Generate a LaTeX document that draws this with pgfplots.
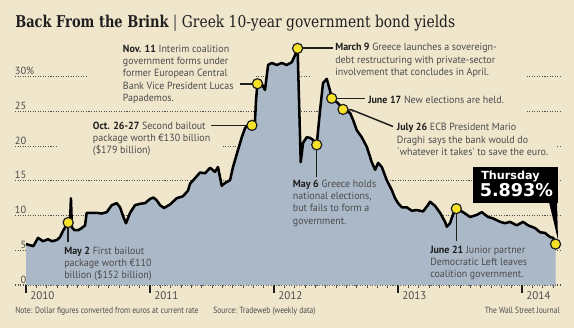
\documentclass[border=0pt]{standalone}
\usepackage{pgfplots}
\pgfplotsset{compat=1.18}
\usepackage{pgfplotstable}
\usepackage{fontspec}
\setmainfont{PT Sans}
\newfontfamily\titlefont[FakeStretch=0.85]{DejaVu Serif}
\newfontfamily\titlebold[FakeStretch=0.80]{DejaVu Serif Bold}
\newfontfamily\boxfont{DejaVu Sans}
\newfontfamily\annfont[FakeStretch=0.96]{PT Sans}
\newfontfamily\footfont[FakeStretch=0.85]{PT Sans}

\definecolor{bg}{RGB}{239,230,204}
\definecolor{areab}{RGB}{170,184,200}
\definecolor{marky}{RGB}{246,226,40}
\definecolor{txt}{RGB}{75,75,75}
\definecolor{dk}{RGB}{30,30,30}
\definecolor{gridc}{RGB}{80,80,80}

\pgfplotstableread{
x y
2010.000 5.9
2010.059 5.6
2010.097 6.8
2010.137 6.3
2010.177 6.6
2010.210 6.3
2010.250 6.5
2010.274 6.9
2010.298 7.8
2010.322 8.5
2010.340 9.0
2010.356 9.6
2010.362 12.5
2010.370 8.3
2010.390 7.9
2010.420 7.9
2010.449 8.2
2010.476 8.6
2010.489 10.4
2010.530 10.4
2010.570 10.4
2010.610 10.3
2010.651 10.5
2010.691 11.5
2010.731 11.8
2010.758 11.2
2010.785 9.8
2010.806 8.9
2010.839 10.4
2010.879 11.5
2010.919 11.7
2010.960 11.8
2011.000 12.4
2011.027 12.6
2011.054 12.2
2011.081 11.5
2011.113 11.1
2011.161 11.6
2011.215 12.5
2011.266 12.8
2011.306 13.6
2011.323 14.6
2011.363 15.4
2011.403 16.2
2011.444 16.1
2011.484 16.9
2011.524 16.3
2011.548 17.0
2011.578 14.3
2011.605 14.7
2011.645 15.1
2011.669 17.0
2011.710 19.5
2011.740 21.3
2011.766 22.6
2011.806 23.3
2011.822 23.0
2011.845 23.2
2011.855 26.7
2011.866 29.0
2011.887 29.5
2011.927 28.1
2011.952 31.7
2011.981 32.0
2012.022 31.7
2012.062 32.0
2012.102 31.7
2012.143 32.1
2012.169 33.1
2012.190 34.1
2012.215 17.7
2012.234 20.5
2012.264 21.3
2012.290 21.2
2012.315 20.9
2012.344 20.2
2012.371 25.2
2012.395 29.1
2012.425 29.7
2012.450 28.1
2012.465 26.9
2012.516 26.2
2012.556 25.3
2012.613 24.8
2012.637 23.8
2012.667 22.3
2012.707 21.3
2012.748 19.9
2012.788 17.7
2012.815 16.6
2012.839 17.6
2012.869 17.0
2012.909 15.1
2012.949 13.7
2012.976 12.5
2013.000 11.8
2013.030 11.2
2013.070 11.2
2013.111 10.7
2013.151 10.8
2013.202 10.6
2013.240 11.5
2013.258 12.0
2013.298 11.4
2013.339 10.4
2013.379 9.1
2013.393 8.4
2013.419 8.9
2013.444 10.2
2013.470 11.0
2013.524 10.5
2013.581 9.8
2013.635 10.1
2013.675 10.5
2013.726 9.8
2013.766 9.6
2013.823 9.1
2013.863 8.9
2013.903 9.1
2013.957 8.6
2014.008 9.1
2014.048 8.6
2014.105 8.2
2014.145 7.6
2014.185 7.5
2014.226 6.9
2014.250 6.8
2014.270 5.893
}\yields

\pgfplotstableread{
x y
2010.340 9.0
2011.822 23.0
2011.866 29.0
2012.190 34.1
2012.344 20.2
2012.465 26.9
2012.556 25.3
2013.470 11.0
2014.270 5.893
}\events

\pgfplotsset{base/.style={scale only axis, width=408.75pt, height=182.175pt,
  xmin=2009.911, xmax=2014.306, ymin=0, ymax=35,
  at={(15*0.75pt,-285*0.75pt)}, anchor=south west}}

\begin{document}
\begin{tikzpicture}
\begin{scope}[x=0.75pt,y=-0.75pt]
\fill[bg] (0,0) rectangle (574,328);
\end{scope}

\begin{axis}[base,
  axis line style={draw=none},
  ymajorgrids,
  major grid style={color=gridc, line width=0.8pt, dash pattern=on 0.8pt off 1.1pt},
  ytick={0,5,10,15,20,25,30},
  yticklabels={0,5,10,15,20,25,30\rlap{\%}},
  ytick align=inside,
  ytick style={draw=none},
  yticklabel style={anchor=south east, inner sep=0pt, xshift=8.6pt, yshift=1.2pt,
    font=\fontsize{7.8}{9}\selectfont, text=txt},
  xtick={2010,2011,2012,2013,2014},
  xticklabels={2010,2011,2012,2013,2014},
  xtick align=outside,
  tick pos=left,
  major tick length=6pt,
  minor tick length=2.2pt,
  major x tick style={color=dk, line width=1.1pt},
  minor xtick={2010.08333,2010.16667,2010.25,2010.33333,2010.41667,2010.5,2010.58333,2010.66667,2010.75,2010.83333,2010.91667,
    2011.08333,2011.16667,2011.25,2011.33333,2011.41667,2011.5,2011.58333,2011.66667,2011.75,2011.83333,2011.91667,
    2012.08333,2012.16667,2012.25,2012.33333,2012.41667,2012.5,2012.58333,2012.66667,2012.75,2012.83333,2012.91667,
    2013.08333,2013.16667,2013.25,2013.33333,2013.41667,2013.5,2013.58333,2013.66667,2013.75,2013.83333,2013.91667,
    2014.08333,2014.16667,2014.25},
  minor x tick style={color=gridc, line width=0.6pt},
  xticklabel style={anchor=north west, inner sep=0pt, xshift=3pt, yshift=1.5pt,
    font=\fontsize{8.3}{9}\selectfont, text=txt},
]
\addplot[fill=areab, draw=none] table[x=x,y=y] {\yields} \closedcycle;
\end{axis}

\begin{scope}[x=0.75pt,y=-0.75pt]
% masks hiding gridlines behind text areas
\fill[bg] (88,75.3) rectangle (255,78.7);
\fill[bg] (311,75.3) rectangle (525,78.7);
\fill[bg] (354,110.3) rectangle (525,113.7);
\fill[bg] (58,145.3) rectangle (222,148.7);
\fill[bg] (370,145.3) rectangle (556,148.7);

% title
\node[anchor=base west, inner sep=0pt, text=dk] at (15,28)
  {\fontsize{12.2}{14}\selectfont{\titlebold Back From the Brink}\ {\titlefont\color{txt}|}\ {\titlefont Greek 10-year government bond yields}};

% leaders
\begin{scope}[draw=dk, line width=1.1pt]
\draw (240,84) -- (257.4,84);
\draw (211,125.3) -- (251.9,125.3);
\draw (297.6,48) -- (333,48);
\draw (331.7,98.7) -- (365,98.7);
\draw (343,109.4) -- (352,110) -- (393,126.5);
\draw (316.7,145) -- (316.7,177);
\draw (68.2,222.5) -- (68.2,242);
\draw (456.3,208.7) -- (456.3,241);
\end{scope}

% annotations
\begin{scope}[every node/.style={anchor=north west, align=left, inner sep=0pt, text=txt,
    font=\annfont\fontsize{7.8}{9.1}\selectfont}]
\node at (122.7,45) {\textbf{\color{dk}Nov. 11} Interim coalition\\government forms under\\former European Central\\Bank Vice President Lucas\\Papademos.};
\node at (92.7,122) {\textbf{\color{dk}Oct. 26-27} Second bailout\\package worth €130 billion\\(\$179 billion)};
\node at (335,43.3) {\textbf{\color{dk}March 9} Greece launches a sovereign-\\debt restructuring with private-sector\\involvement that concludes in April.};
\node at (368,96) {\textbf{\color{dk}June 17} New elections are held.};
\node at (396.7,123.3) {\textbf{\color{dk}July 26} ECB President Mario\\Draghi says the bank would do\\`whatever it takes' to save the euro.};
\node at (292.7,180) {\textbf{\color{dk}May 6} Greece holds\\national elections,\\but fails to form a\\government.};
\node at (64,247) {\textbf{\color{dk}May 2} First bailout\\package worth €110\\billion (\$152 billion)};
\node at (430,246) {\textbf{\color{dk}June 21} Junior partner\\Democratic Left leaves\\coalition government.};
\end{scope}

% Thursday box
\fill[black] (473,167) rectangle (558,203);
\fill[black] (549,202) -- (557,202) -- (558,240) -- cycle;
\node[anchor=base west, inner sep=0pt, text=white] at (481,179.5)
  {\boxfont\bfseries\fontsize{8.4}{10}\selectfont Thursday};
\node[anchor=base west, inner sep=0pt, text=white] at (479.5,196)
  {\boxfont\bfseries\fontsize{13.2}{15}\selectfont 5.893\%};

% footer
\node[anchor=base west, inner sep=0pt, text=txt] at (15,313)
  {\footfont\fontsize{6.7}{8}\selectfont Note: Dollar figures converted from euros at current rate};
\node[anchor=base west, inner sep=0pt, text=txt] at (213,313)
  {\footfont\fontsize{6.7}{8}\selectfont Source: Tradeweb (weekly data)};
\node[anchor=base east, inner sep=0pt, text=txt] at (560,313)
  {\footfont\fontsize{6.7}{8}\selectfont The Wall Street Journal};
\end{scope}

\begin{axis}[base, hide axis]
\addplot[only marks, mark=*, mark size=3.8pt, mark options={fill=marky, draw=dk, line width=0.9pt}]
  table[x=x,y=y] {\events};
\addplot[draw=black, line width=1.9pt, line join=round, mark=none] table[x=x,y=y] {\yields};
\end{axis}

\begin{scope}[x=0.75pt,y=-0.75pt]
\pgfresetboundingbox
\path[use as bounding box] (0,0) rectangle (574,328);
\end{scope}
\end{tikzpicture}
\end{document}
